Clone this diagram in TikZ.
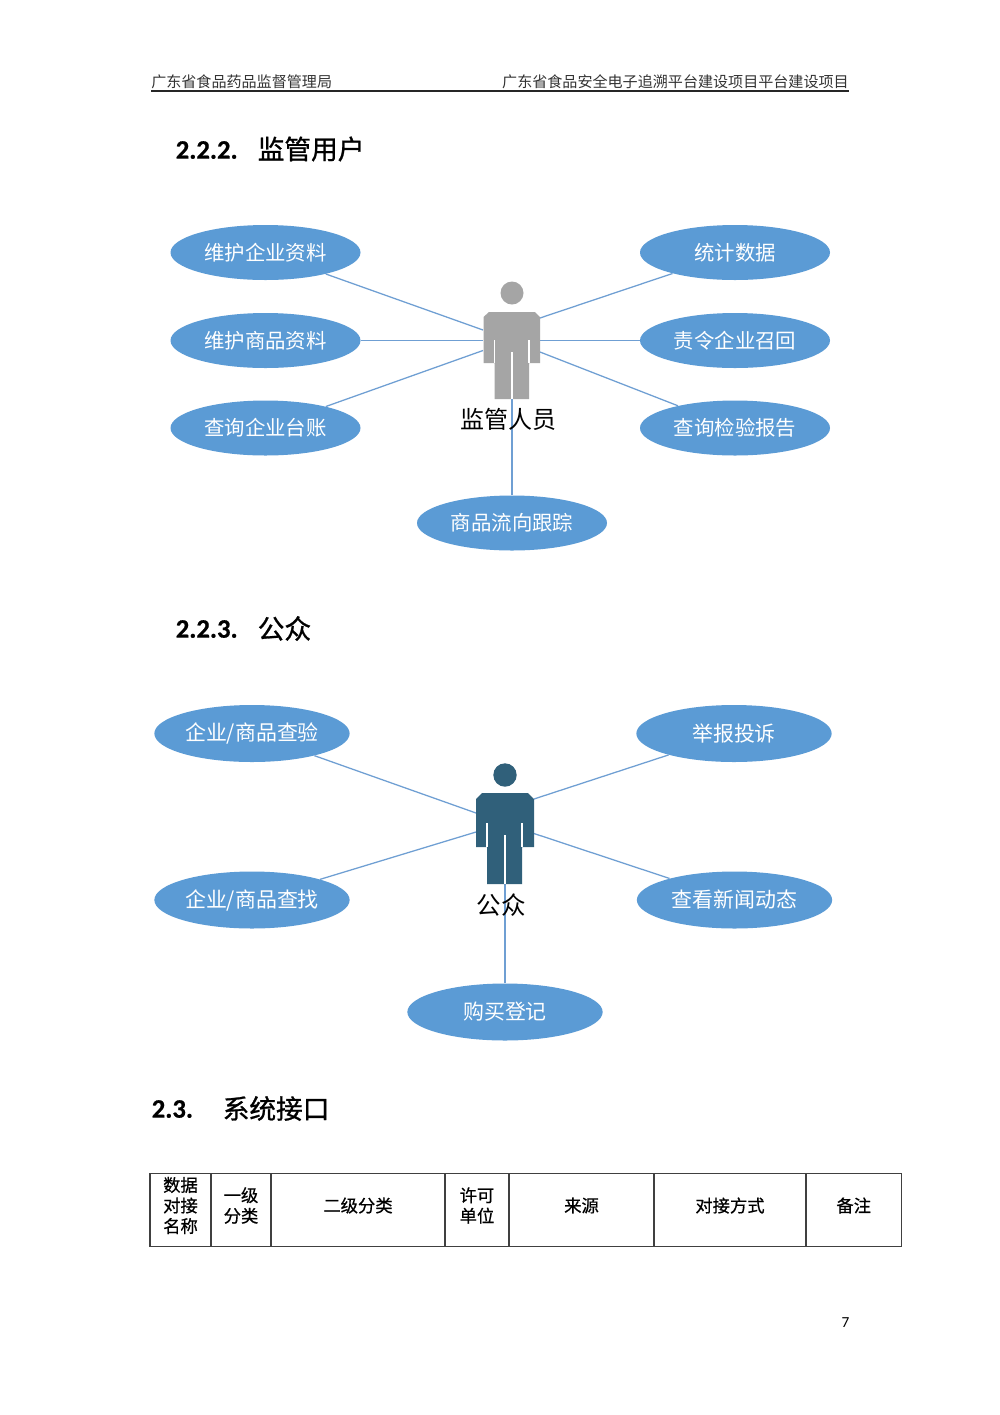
\documentclass[tikz,border=0pt]{standalone}
\usepackage{fontspec}
\usetikzlibrary{shapes.geometric}
\setmainfont{Noto Sans CJK SC}
\newfontfamily\cjkbold[FakeBold=0.6]{Noto Sans CJK SC}
\newfontfamily\cjkhead[FakeBold=1]{Noto Sans CJK SC}
\newfontfamily\latinbold[BoldFont=Carlito Bold,BoldFeatures={FakeBold=0.6}]{Carlito}
\newcommand{\fs}[1]{\fontsize{#1pt}{#1pt}\selectfont}
\definecolor{ellblue}{HTML}{5B9BD5}
\definecolor{linkblue}{HTML}{6F9FD3}
\definecolor{persongray}{HTML}{A5A5A5}
\definecolor{personteal}{HTML}{30607A}
\tikzset{
  usecase/.style={ellipse,fill=ellblue,text=white,inner sep=0pt,minimum width=142.5pt,minimum height=41.25pt,font=\fs{15.3}},
  usecaseb/.style={ellipse,fill=ellblue,text=white,inner sep=0pt,minimum width=146.5pt,minimum height=42.75pt,font=\fs{15.7}},
  link/.style={draw=linkblue,line width=0.95pt},
  actorlabel/.style={inner sep=0pt,text=black,font=\fs{18}},
  slit/.style={draw=white,line width=0.9pt},
  headertext/.style={inner sep=0pt,text=black!80,font=\fs{11.3}},
  headnum/.style={inner sep=0pt,anchor=west,text=black,font=\latinbold\bfseries\fs{20}},
  headcjk/.style={inner sep=0pt,anchor=west,text=black,font=\cjkhead\fs{20}},
  cell/.style={draw=black!75,line width=0.8pt,inner sep=0pt,minimum height=54.4pt},
  celltext/.style={inner sep=0pt,align=center,font=\cjkbold\fontsize{13pt}{15.4pt}\selectfont},
}
\begin{document}
\begin{tikzpicture}[x=0.75pt,y=-0.75pt]
\useasboundingbox[fill=white] (0,0) rectangle (1000,1415);

% page header
\node[headertext,anchor=west] (hl) at (151,81.5) {广东省食品药品监督管理局};
\node[headertext,anchor=east] (hr) at (849,81.5) {广东省食品安全电子追溯平台建设项目平台建设项目};
\coordinate (rl) at (151,91);
\coordinate (rr) at (849,91);
\draw[black!85,line width=1.3pt] (rl) -- (rr);

% headings
\node[headnum] (h1n) at (175.5,150) {2.2.2.};
\node[headcjk] (h1c) at (257.5,149) {监管用户};
\node[headnum] (h2n) at (175.5,629) {2.2.3.};
\node[headcjk] (h2c) at (257.5,628.5) {公众};
\node[headnum] (h3n) at (151.5,1109) {2.3.};
\node[headcjk] (h3c) at (222.5,1108.5) {系统接口};

% supervisor use cases
\node[usecase] (a1) at (265.5,252.5) {维护企业资料};
\node[usecase] (a2) at (265.5,340.5) {维护商品资料};
\node[usecase] (a3) at (265.5,428) {查询企业台账};
\node[usecase] (a4) at (735,252.5) {统计数据};
\node[usecase] (a5) at (735,340.5) {责令企业召回};
\node[usecase] (a6) at (735,428) {查询检验报告};
\node[usecase] (a7) at (512,523) {商品流向跟踪};

\coordinate (pa1) at (483,330);
\coordinate (pa2) at (483,340.5);
\coordinate (pa3) at (483,350.5);
\coordinate (pa4) at (540,318);
\coordinate (pa5) at (540,340.5);
\coordinate (pa6) at (540,352);
\coordinate (pa7) at (512,399);
\draw[link] (a1) -- (pa1);
\draw[link] (a2) -- (pa2);
\draw[link] (a3) -- (pa3);
\draw[link] (a4) -- (pa4);
\draw[link] (a5) -- (pa5);
\draw[link] (a6) -- (pa6);
\draw[link] (a7) -- (pa7);

% supervisor figure
\fill[persongray] (512,293) circle[radius=11.5];
\fill[persongray] (489,312) -- (535,312) -- (540,317) -- (540,363) -- (529,363) -- (529,399) -- (494.5,399) -- (494.5,363) -- (483.5,363) -- (483.5,317) -- cycle;
\draw[slit] (494.5,340) -- (494.5,363);
\draw[slit] (529,340) -- (529,363);
\draw[slit] (512,352) -- (512,399);
\node[actorlabel] (pal) at (508,419.5) {监管人员};

% public use cases
\node[usecaseb] (b1) at (252,733.5) {企业/商品查验};
\node[usecaseb] (b2) at (252,900) {企业/商品查找};
\node[usecaseb] (b3) at (734,733.5) {举报投诉};
\node[usecaseb] (b4) at (734.5,900) {查看新闻动态};
\node[usecaseb] (b5) at (505,1012) {购买登记};

\coordinate (pb1) at (476,813);
\coordinate (pb2) at (476,832);
\coordinate (pb3) at (534,799);
\coordinate (pb4) at (534,833.5);
\coordinate (pb5) at (505,884);
\draw[link] (b1) -- (pb1);
\draw[link] (b2) -- (pb2);
\draw[link] (b3) -- (pb3);
\draw[link] (b4) -- (pb4);
\draw[link] (b5) -- (pb5);

% public figure
\fill[personteal] (505,775) circle[radius=11.7];
\fill[personteal] (482,793) -- (528,793) -- (534,799) -- (534,847) -- (522,847) -- (522,884) -- (487,884) -- (487,847) -- (476,847) -- (476,799) -- cycle;
\draw[slit] (487,823) -- (487,847);
\draw[slit] (522,823) -- (522,847);
\draw[slit] (505,835) -- (505,884);
\node[actorlabel,font=\fs{18.4}] (pbl) at (501.5,905) {公众};

% table
\node[cell,minimum width=45.75pt] (t1) at (180.5,1209.75) {};
\node[cell,minimum width=45pt] (t2) at (241,1209.75) {};
\node[cell,minimum width=130.5pt] (t3) at (358,1209.75) {};
\node[cell,minimum width=48pt] (t4) at (477,1209.75) {};
\node[cell,minimum width=108.75pt] (t5) at (581.5,1209.75) {};
\node[cell,minimum width=114pt] (t6) at (730,1209.75) {};
\node[cell,minimum width=71.6pt] (t7) at (853.75,1209.75) {};
\node[celltext] (x1) at (180.5,1205.5) {数据\\对接\\名称};
\node[celltext] (x2) at (241,1205.5) {一级\\分类};
\node[celltext] (x3) at (358,1205.5) {二级分类};
\node[celltext] (x4) at (477,1205.5) {许可\\单位};
\node[celltext] (x5) at (581.5,1205.5) {来源};
\node[celltext] (x6) at (730,1205.5) {对接方式};
\node[celltext] (x7) at (853.75,1205.5) {备注};

% page number
\node[inner sep=0pt,font=\latinbold\fs{11.5}] (pg) at (845.5,1322.5) {7};
\end{tikzpicture}
\end{document}
